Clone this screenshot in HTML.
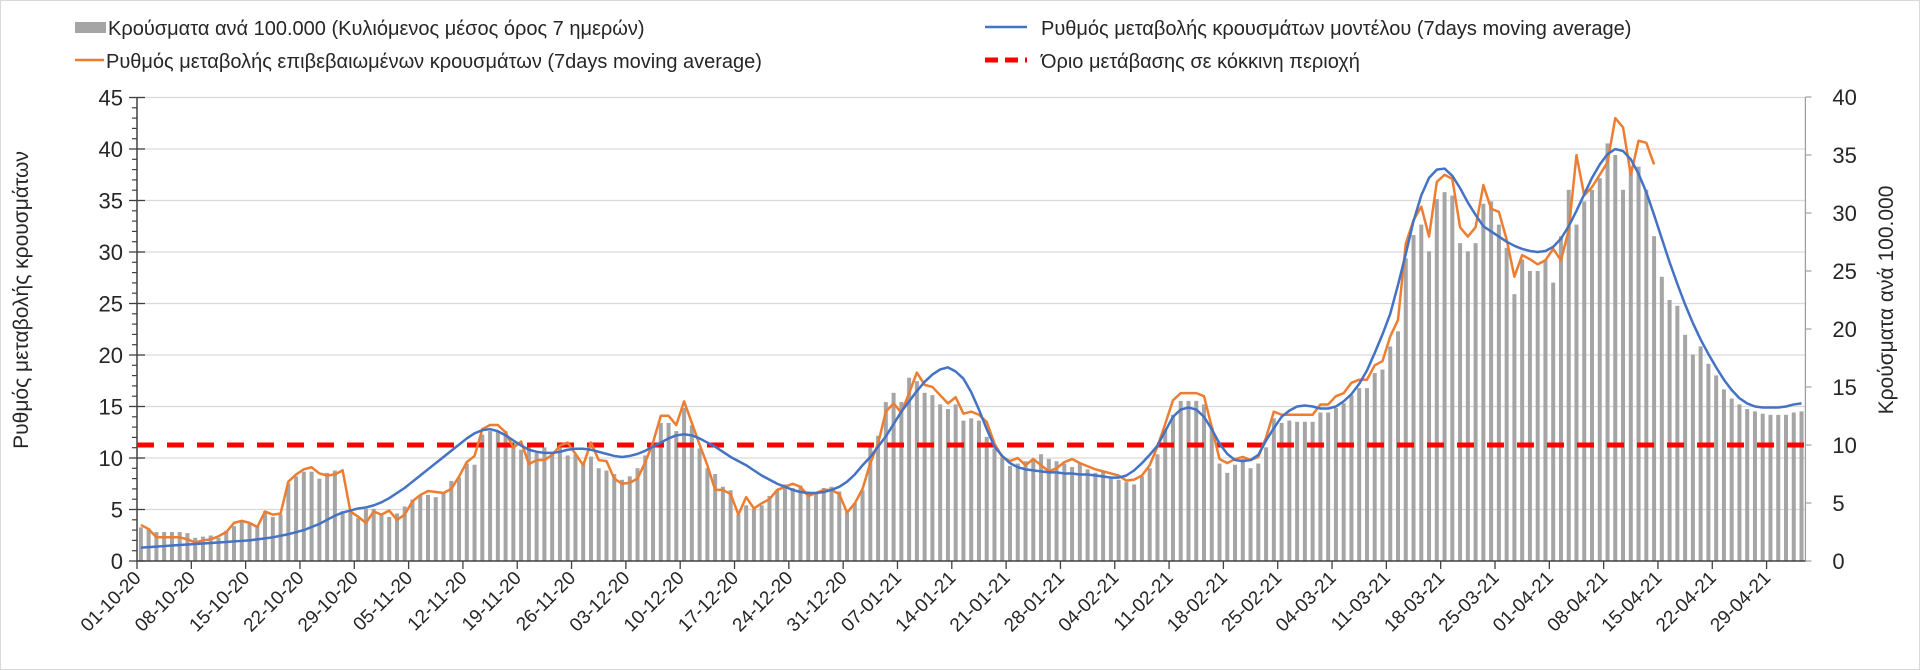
<!DOCTYPE html>
<html><head><meta charset="utf-8"><style>
body{margin:0;background:#fff;}
svg{display:block;font-family:"Liberation Sans",sans-serif;}
</style></head><body>
<svg id="chart" width="1920" height="670" viewBox="0 0 1920 670" xmlns="http://www.w3.org/2000/svg">
<rect x="0.5" y="0.5" width="1919" height="669" fill="#fff" stroke="#d9d9d9"/>
<g id="grid"></g>
<g id="bars"></g>
<g id="axes"></g>
<g id="lines"></g>
<g id="legend">
  <rect x="75" y="22" width="31" height="11" fill="#a5a5a5"/>
  <text x="108" y="35" font-size="20" fill="#262626">Κρούσματα ανά 100.000 (Κυλιόμενος μέσος όρος 7 ημερών)</text>
  <line x1="75" y1="60" x2="104" y2="60" stroke="#ed7d31" stroke-width="2.5"/>
  <text x="106" y="68" font-size="20" fill="#262626">Ρυθμός μεταβολής επιβεβαιωμένων κρουσμάτων (7days moving average)</text>
  <line x1="985" y1="27" x2="1027" y2="27" stroke="#4472c4" stroke-width="2.5"/>
  <text x="1041" y="35" font-size="20" fill="#262626">Ρυθμός μεταβολής κρουσμάτων μοντέλου (7days moving average)</text>
  <line x1="985" y1="60" x2="1027" y2="60" stroke="#ff0000" stroke-width="5" stroke-dasharray="13,7"/>
  <text x="1041" y="68" font-size="20" fill="#262626">Όριο μετάβασης σε κόκκινη περιοχή</text>
</g>
<text transform="translate(28,300) rotate(-90)" text-anchor="middle" font-size="21" fill="#262626">Ρυθμός μεταβολής κρουσμάτων</text>
<text transform="translate(1893,300) rotate(-90)" text-anchor="middle" font-size="21" fill="#262626">Κρούσματα ανά 100.000</text>
</svg>
<script>
const bars = [2.9,2.8,2.5,2.5,2.5,2.5,2.4,2.0,2.1,2.2,2.0,2.6,3.0,3.4,3.2,3.0,4.3,3.8,4.0,6.7,7.3,7.7,7.7,7.1,7.6,7.8,4.3,4.2,3.7,4.5,4.5,4.1,3.8,4.1,4.7,5.3,5.7,5.7,5.5,5.9,6.9,7.2,8.4,8.3,10.9,
11.2,11.2,11.2,10.2,9.6,10.2,9.3,9.8,9.4,9.9,
9.1,9.2,8.5,9.0,8.0,7.8,7.5,7.0,7.3,8.0,9.1,
10.0,11.9,11.9,11.2,13.2,11.7,9.7,8.0,
7.5,6.4,6.1,4.0,4.8,4.5,4.8,5.6,6.1,6.6,
6.3,6.5,6.0,5.8,6.3,6.4,6.0,4.2,5.0,6.1,
9.9,10.8,13.7,14.5,13.7,15.8,15.5,14.5,14.3,13.5,13.1,13.5,12.1,12.3,12.1,10.7,9.7,8.9,
8.2,8.4,8.6,8.8,9.2,8.8,8.6,8.4,8.1,8.4,7.9,7.6,7.8,7.2,7.0,6.8,6.6,7.3,8.0,
9.2,11.3,12.6,13.8,13.8,13.8,13.5,11.5,8.4,7.6,8.3,8.8,8.0,
8.4,9.8,12.3,11.9,12.1,12.0,12.0,12.0,12.8,12.8,13.2,13.6,14.3,14.9,14.9,16.2,16.5,18.5,19.8,26.1,28.1,29.0,26.7,31.2,31.8,31.5,27.4,26.7,27.4,30.8,
31.0,29.0,27.0,23.0,26.0,25.0,25.0,26.0,24.0,28.0,32.0,29.0,31.0,32.0,33.0,36.0,35.0,32.0,34.0,34.0,32.0,28.0,24.5,22.5,22.0,19.5,17.8,18.5,17.0,16.0,14.8,14.0,13.5,13.1,12.9,12.7,12.6,12.6,12.6,12.8,12.9];
const orange = [3.5,3.1,2.3,2.3,2.3,2.3,2.1,1.8,2.0,2.1,2.4,2.8,3.7,3.9,3.7,3.3,4.8,4.5,4.6,7.7,8.4,8.9,9.1,8.5,8.3,8.4,8.8,4.8,4.3,3.7,4.8,4.5,4.9,4.0,4.5,5.8,6.4,6.8,6.7,6.6,7.0,8.2,9.6,10.2,12.8,
13.2,13.2,12.5,11.0,11.6,9.4,9.8,9.8,10.3,11.2,
11.5,10.4,9.3,11.5,9.8,9.7,8.0,7.5,7.6,8.0,9.6,
11.5,14.1,14.1,13.2,15.5,13.4,11.3,9.3,
6.9,6.9,6.5,4.5,6.2,5.1,5.6,6.0,6.9,7.2,
7.5,7.2,6.3,6.6,6.9,6.9,6.5,4.7,5.6,7.0,
9.5,11.4,14.5,15.3,14.4,16.3,18.3,17.1,16.9,16.1,15.3,15.9,14.3,14.5,14.2,13.5,11.4,10.1,
9.7,10.0,9.3,9.9,9.3,8.7,9.0,9.6,9.9,9.5,9.2,8.9,8.7,8.5,8.3,7.8,7.9,8.3,9.3,
11.1,13.3,15.6,16.3,16.3,16.3,16.0,13.0,9.9,9.5,9.9,10.1,9.8,
10.1,12.0,14.5,14.2,14.2,14.2,14.2,14.2,15.2,15.2,16.0,16.3,17.3,17.6,17.6,19.0,19.4,21.8,23.4,30.8,33.1,34.4,31.5,36.8,37.5,37.1,32.4,31.5,32.4,36.5,
34.2,33.9,31.2,27.6,29.7,29.3,28.8,29.2,30.3,29.2,32.1,39.4,35.5,36.3,37.5,38.7,43.0,42.1,37.5,40.8,40.6,38.5];
const blue = [1.3,1.35,1.4,1.45,1.5,1.55,1.6,1.65,1.7,1.75,1.8,1.85,1.9,1.95,2.0,2.1,2.2,2.3,2.45,2.6,2.8,3.0,3.3,3.6,4.0,4.4,4.7,4.9,5.1,5.2,5.4,5.7,6.1,6.6,7.1,7.7,8.3,8.9,9.5,10.1,10.7,11.3,11.9,12.4,12.7,
12.8,12.6,12.2,11.7,11.2,10.8,10.6,10.5,10.5,10.6,
10.8,10.9,10.9,10.8,10.6,10.4,10.2,10.1,10.2,10.4,10.7,
11.1,11.5,11.9,12.2,12.3,12.2,11.9,11.5,
11.1,10.6,10.1,9.7,9.3,8.8,8.3,7.9,7.5,7.2,
6.9,6.7,6.6,6.6,6.7,6.9,7.2,7.7,8.4,9.3,
10.1,11.1,12.1,13.3,14.5,15.5,16.5,17.4,18.1,18.6,18.8,18.4,17.7,16.4,14.7,12.8,11.1,10.2,
9.5,9.1,8.9,8.8,8.7,8.6,8.6,8.5,8.5,8.4,8.4,8.3,8.2,8.1,8.1,8.3,8.8,9.5,10.3,
11.2,12.6,14.0,14.7,14.9,14.7,14.0,12.8,11.4,10.4,9.8,9.7,9.8,
10.3,11.7,12.9,14.0,14.6,15.0,15.1,15.0,14.8,14.8,15.0,15.5,16.2,17.2,18.5,20.2,22.0,24.0,26.8,29.8,33.0,35.5,37.2,38.0,38.1,37.4,36.2,34.8,33.6,32.5,
32.0,31.5,31.0,30.6,30.3,30.1,30.0,30.1,30.5,31.3,32.5,34.0,35.6,37.2,38.5,39.5,40.0,39.8,39.0,37.6,35.8,33.6,31.3,29.0,26.9,24.9,23.1,21.5,20.1,18.8,17.6,16.6,15.8,15.3,15.0,14.9,14.9,14.9,15.0,15.2,15.3];
const threshold = [10];
const leftTicks = [0,5,10,15,20,25,30,35,40,45];
const rightTicks = [0,5,10,15,20,25,30,35,40];
const dateLabels = ["01-10-20","08-10-20","15-10-20","22-10-20","29-10-20","05-11-20","12-11-20","19-11-20","26-11-20","03-12-20","10-12-20","17-12-20","24-12-20","31-12-20","07-01-21","14-01-21","21-01-21","28-01-21","04-02-21","11-02-21","18-02-21","25-02-21","04-03-21","11-03-21","18-03-21","25-03-21","01-04-21","08-04-21","15-04-21","22-04-21","29-04-21"];

const NS="http://www.w3.org/2000/svg";
const X0=137, SLOT=7.76, Y0=561, N=bars.length, X1=X0+N*SLOT;
const xC=d=>X0+(d+0.5)*SLOT;
const xT=d=>X0+d*SLOT;
const yL=v=>Y0-v*(463.5/45);
const yR=v=>Y0-v*(464/40);
function mk(tag,attrs,parent){const e=document.createElementNS(NS,tag);for(const k in attrs)e.setAttribute(k,attrs[k]);parent.appendChild(e);return e;}
const grid=document.getElementById('grid'),barsG=document.getElementById('bars'),axes=document.getElementById('axes'),linesG=document.getElementById('lines');

leftTicks.forEach(v=>{
  if(v>0){const g=mk('line',{x1:X0,x2:X1,y1:yL(v),y2:yL(v),stroke:'#d9d9d9','stroke-width':1.3},grid);
  
  }
  const t=mk('text',{x:X0-14,y:yL(v)+8,'text-anchor':'end','font-size':22,fill:'#262626'},axes);
  t.textContent=v;
  
  
  mk('line',{x1:X0-8,x2:X0+8,y1:yL(v),y2:yL(v),stroke:'#404040','stroke-width':1.3},axes);
});
for(let v=1;v<45;v++){ if(v%5) mk('line',{x1:X0-5,x2:X0,y1:yL(v),y2:yL(v),stroke:'#404040','stroke-width':1.2},axes); }
rightTicks.forEach(v=>{
  const t=mk('text',{x:X1+27,y:yR(v)+8,'font-size':22,fill:'#262626'},axes);
  t.textContent=v;
  
  
  mk('line',{x1:X1,x2:X1+6,y1:yR(v),y2:yR(v),stroke:'#a0a0a0','stroke-width':1.2},axes);
});
const la=mk('line',{x1:X0,x2:X0,y1:yL(45),y2:Y0,stroke:'#404040','stroke-width':1.5},axes);


const ra=mk('line',{x1:X1,x2:X1,y1:yR(40),y2:Y0,stroke:'#a0a0a0','stroke-width':1.3},axes);


const xa=mk('line',{x1:X0,x2:X1,y1:Y0,y2:Y0,stroke:'#404040','stroke-width':1.5},axes);


dateLabels.forEach((lab,i)=>{
  const d=i*7, x=xT(d);
  mk('line',{x1:x,x2:x,y1:Y0,y2:Y0+8,stroke:'#404040','stroke-width':1.3},axes);
  const t=mk('text',{transform:`translate(${x+5},${Y0+18}) rotate(-45)`,'text-anchor':'end','font-size':19,fill:'#262626'},axes);
  t.textContent=lab;
  
  
});

bars.forEach((v,i)=>{
  const r=mk('rect',{x:xC(i)-2,y:yR(v),width:4,height:Y0-yR(v),fill:'#a5a5a5'},barsG);
  
  
});
const rl=mk('line',{x1:X0,x2:X1,y1:yR(threshold[0]),y2:yR(threshold[0]),stroke:'#ff0000','stroke-width':5,'stroke-dasharray':'17,13'},linesG);


const po=mk('polyline',{points:orange.map((v,i)=>xC(i)+','+yL(v)).join(' '),fill:'none',stroke:'#ed7d31','stroke-width':2.5,'stroke-linejoin':'round'},linesG);


const pb=mk('polyline',{points:blue.map((v,i)=>xC(i)+','+yL(v)).join(' '),fill:'none',stroke:'#4472c4','stroke-width':2.5,'stroke-linejoin':'round'},linesG);


</script>
</body></html>
